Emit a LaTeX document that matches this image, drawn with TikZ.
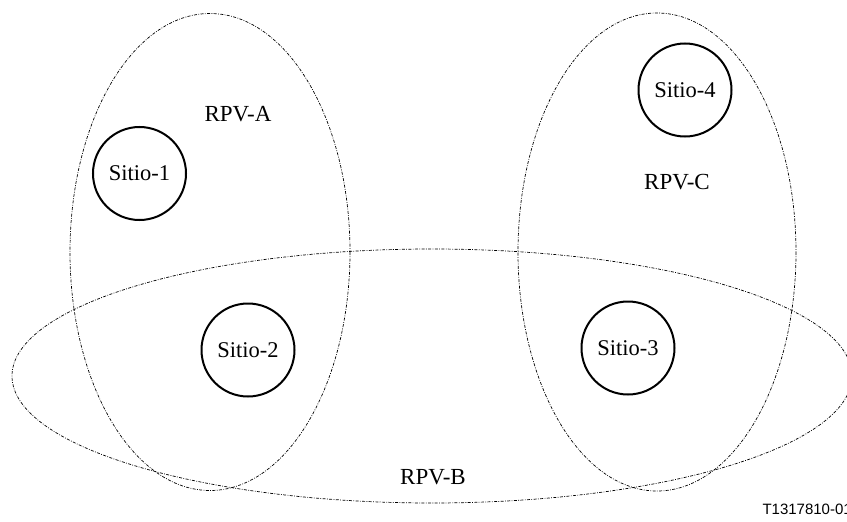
\documentclass[tikz,border=0pt]{standalone}
\usepackage{fontspec}
\setmainfont{Liberation Serif}
\newfontfamily\labelsans{Liberation Sans}
\begin{document}
\begin{tikzpicture}[x=1pt,y=-1pt,
  vpn/.style={draw, line width=0.7pt, dash pattern=on 3pt off 1.4pt on 0.8pt off 1.4pt},
  site/.style={draw, circle, line width=2pt, minimum size=93pt, inner sep=0pt, font=\fontsize{22.5}{26}\selectfont},
  vpnlabel/.style={font=\fontsize{23}{27}\selectfont}]
  \useasboundingbox (0,0) rectangle (847,522);
  \clip (0,0) rectangle (847,522);
  % VPN ellipses
  \draw[vpn] (210,252) ellipse [x radius=140, y radius=238.5];
  \draw[vpn] (657,252) ellipse [x radius=139, y radius=239];
  \draw[vpn] (432,376) ellipse [x radius=420, y radius=127];
  % sites
  \node[site] (s1) at (139.5,173.5) {Sitio-1};
  \node[site] (s2) at (248,350) {Sitio-2};
  \node[site] (s3) at (628,348) {Sitio-3};
  \node[site] (s4) at (685,90) {Sitio-4};
  % VPN labels
  \node[vpnlabel] (la) at (238,114) {RPV-A};
  \node[vpnlabel] (lc) at (677,182) {RPV-C};
  \node[vpnlabel] (lb) at (433,477) {RPV-B};
  \node[anchor=base west, font=\labelsans\fontsize{15}{18}\selectfont] (ref) at (759,514) {T1317810-01};
\end{tikzpicture}
\end{document}
